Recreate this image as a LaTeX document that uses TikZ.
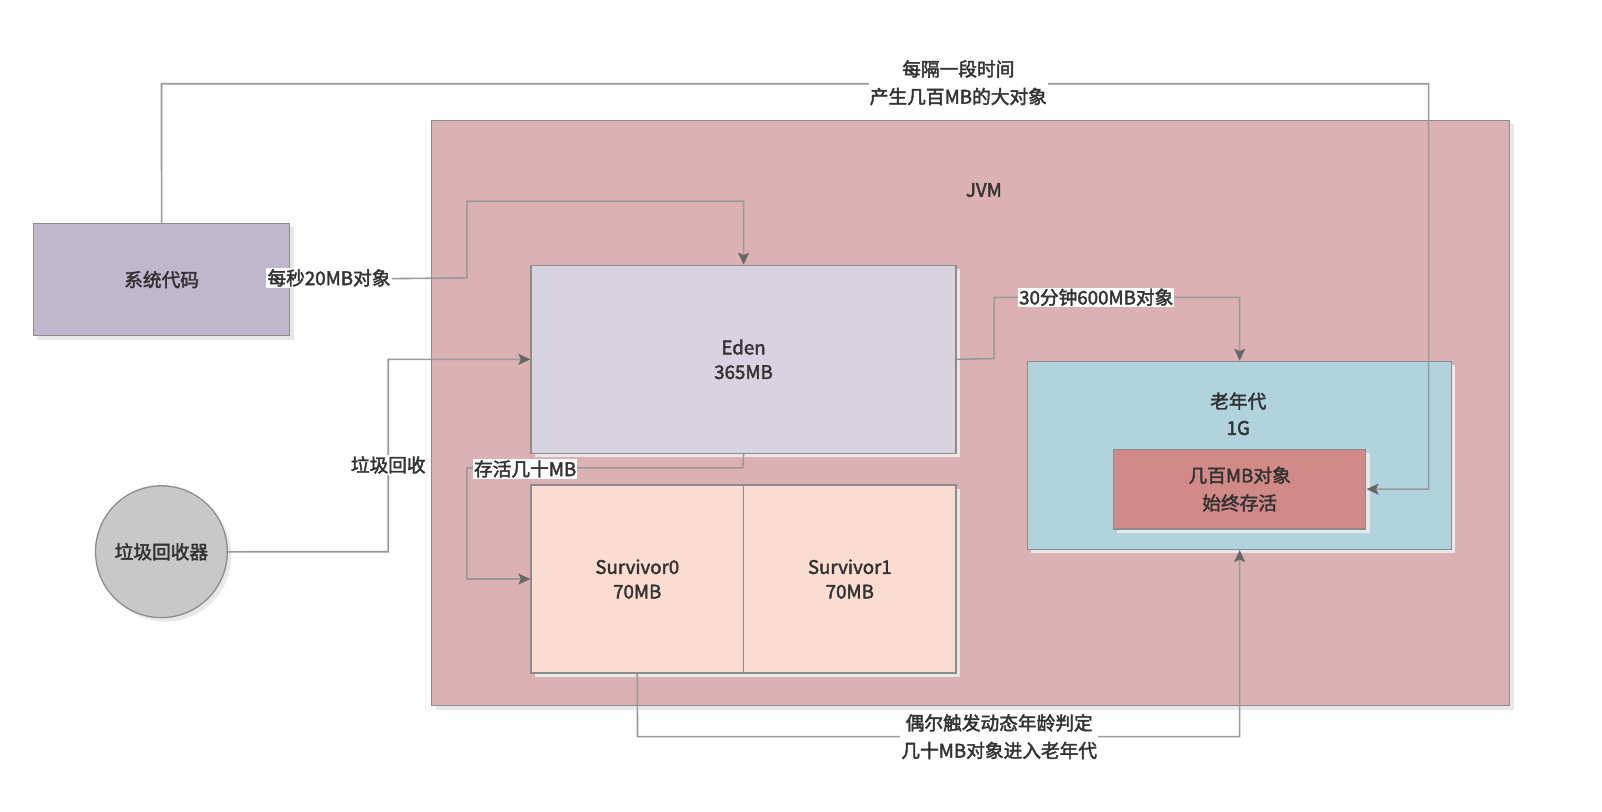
\documentclass[tikz,border=0pt]{standalone}
\usepackage{fontspec}
\setmainfont{Noto Sans CJK SC}[BoldFont={Noto Sans CJK SC},BoldFeatures={FakeBold=2.2}]
\usetikzlibrary{arrows.meta,shadows}
\definecolor{txt}{HTML}{333333}
\definecolor{ln}{HTML}{9A9A9A}
\definecolor{ah}{HTML}{666666}
\definecolor{bd}{HTML}{8C8C8C}
\definecolor{jvmc}{HTML}{DCB1B3}
\definecolor{edenc}{HTML}{D8D3E1}
\definecolor{survc}{HTML}{FBDCD0}
\definecolor{oldc}{HTML}{B0D3DE}
\definecolor{innc}{HTML}{D18A87}
\definecolor{sysc}{HTML}{BFB7CE}
\definecolor{gcc}{HTML}{C8C8C8}
\tikzset{
  x=1pt,y=-1pt,
  every node/.style={font=\fontsize{18.3}{27}\selectfont\bfseries, text=txt, align=center, transform shape},
  tight/.style={font=\fontsize{18.3}{24}\selectfont\bfseries},
  box/.style={draw=bd, line width=1.3pt, inner sep=0pt, anchor=north west,
    drop shadow={shadow xshift=4pt, shadow yshift=-4pt, fill=black!9, opacity=1}},
  conn/.style={draw=ln, line width=1.6pt, -{Stealth[length=12pt,width=11pt,inset=2.5pt,color=ah]}},
  lab/.style={fill=white, inner sep=1pt},
}
\begin{document}
\begin{tikzpicture}[scale=1.0217]
\useasboundingbox (0,0) rectangle (1568,794.75);
\fill[white] (0,0) rectangle (1568,794.75);
% JVM
\node[box, fill=jvmc, minimum width=1055pt, minimum height=573pt] (jvm) at (422,117) {};
\node (jvmlab) at (963,186) {JVM};
% system code
\node[box, fill=sysc, minimum width=251pt, minimum height=110pt] (sys) at (32,218) {};
\node at (sys.center) {系统代码};
% gc
\node[draw=bd, line width=1.3pt, fill=gcc, circle, minimum size=129pt, inner sep=0pt,
  drop shadow={shadow xshift=4pt, shadow yshift=-4pt, fill=black!9, opacity=1}] (gc) at (158,540) {垃圾回收器};
% eden
\node[box, fill=edenc, minimum width=416pt, minimum height=184pt] (eden) at (519,259) {};
\node[tight] at (eden.center) {Eden\\365MB};
% survivors
\node[box, fill=survc, minimum width=208pt, minimum height=184pt] (s0) at (519,474) {};
\node[tight] at (s0.center) {Survivor0\\70MB};
\node[box, fill=survc, minimum width=208pt, minimum height=184pt] (s1) at (727,474) {};
\node[tight] at (s1.center) {Survivor1\\70MB};
% old gen
\node[box, fill=oldc, minimum width=415pt, minimum height=184pt] (old) at (1005,353) {};
\node[font=\fontsize{18.3}{26}\selectfont\bfseries] at (1212,405) {老年代\\1G};
\node[box, fill=innc, minimum width=247pt, minimum height=78pt] (inner) at (1089,439) {};
\node at (inner.center) {几百MB对象\\始终存活};
% connectors
\coordinate (a1) at (158,82);
\coordinate (a2) at (1398,82);
\draw[conn] (sys.north) -- (a1) -- (a2) |- (inner.east);
\node[lab] at (938,81) {每隔一段时间\\产生几百MB的大对象};

\draw[conn] (sys.east) -- (457,272) -- (457,197) -| (eden.north);
\node[lab] at (322,272) {每秒20MB对象};

\draw[conn] (gc.east) -- (380,540) |- (eden.west);
\node[lab] at (380,455) {垃圾回收};

\draw[conn] (eden.south) -- (727,458) -- (457,458) |- (s0.west);
\node[lab] at (514,459) {存活几十MB};

\draw[conn] (eden.east) -- (973,351) -- (973,291) -| (old.north);
\node[lab] at (1073,291) {30分钟600MB对象};

\draw[conn] (s0.south) -- (624,721) -| (old.south);
\node[lab] at (978,721) {偶尔触发动态年龄判定\\几十MB对象进入老年代};
\end{tikzpicture}
\end{document}
